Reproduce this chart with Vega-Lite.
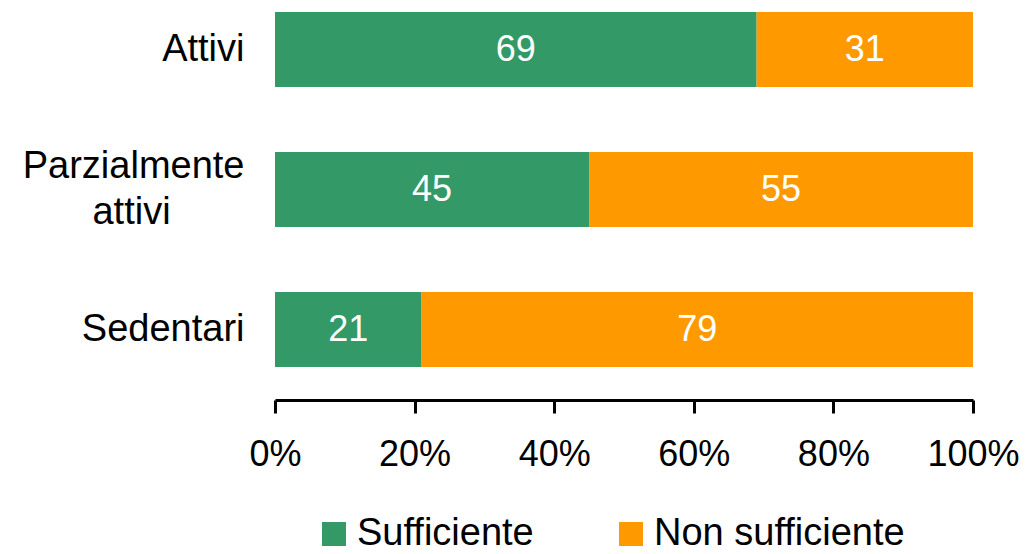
{
  "$schema": "https://vega.github.io/schema/vega-lite/v6.json",
  "autosize": {"type": "none"},
  "width": 698,
  "height": 388,
  "padding": {"left": 275, "top": 12, "right": 54, "bottom": 154},
  "background": "white",
  "config": {
    "view": {"stroke": null},
    "font": "Liberation Sans",
    "text": {"font": "Liberation Sans"}
  },
  "data": {
    "values": [
      {"gruppo": "Attivi", "esito": "Sufficiente", "valore": 69},
      {"gruppo": "Attivi", "esito": "Non sufficiente", "valore": 31},
      {"gruppo": "Parzialmente attivi", "esito": "Sufficiente", "valore": 45},
      {"gruppo": "Parzialmente attivi", "esito": "Non sufficiente", "valore": 55},
      {"gruppo": "Sedentari", "esito": "Sufficiente", "valore": 21},
      {"gruppo": "Sedentari", "esito": "Non sufficiente", "valore": 79}
    ]
  },
  "encoding": {
    "y": {
      "field": "gruppo",
      "type": "nominal",
      "sort": ["Attivi", "Parzialmente attivi", "Sedentari"],
      "scale": {"paddingInner": 0.464, "paddingOuter": 0.1175, "align": 0},
      "axis": {
        "title": null,
        "domain": false,
        "ticks": false,
        "labelFontSize": 38,
        "labelColor": "black",
        "labelPadding": 31,
        "labelLineHeight": 46,
        "labelLimit": 400,
        "labelOffset": {"condition": {"test": "datum.value == 'Parzialmente attivi'", "value": -23}, "value": 0},
        "labelExpr": "datum.label == 'Parzialmente attivi' ? ['Parzialmente', 'attivi\\u00a0\\u00a0\\u00a0\\u00a0\\u00a0\\u00a0\\u00a0\\u200b'] : datum.label"
      }
    },
    "order": {"field": "esito", "sort": "descending"}
  },
  "layer": [
    {
      "mark": {"type": "bar"},
      "encoding": {
        "x": {
          "field": "valore",
          "type": "quantitative",
          "stack": "zero",
          "scale": {"domain": [0, 100], "nice": false},
          "axis": {
            "title": null,
            "grid": false,
            "values": [0, 20, 40, 60, 80, 100],
            "labelExpr": "datum.value + '%'",
            "labelFontSize": 36,
            "labelColor": "black",
            "labelPadding": 24,
            "labelFlush": false,
            "domainColor": "black",
            "domainWidth": 3,
            "tickColor": "black",
            "tickWidth": 3,
            "tickSize": 13
          }
        },
        "color": {
          "field": "esito",
          "type": "nominal",
          "sort": ["Sufficiente", "Non sufficiente"],
          "scale": {"domain": ["Sufficiente", "Non sufficiente"], "range": ["#339966", "#FF9900"]},
          "legend": {
            "title": null,
            "orient": "none",
            "direction": "horizontal",
            "legendX": 40,
            "legendY": 503,
            "padding": 0,
            "symbolType": "square",
            "symbolSize": 576,
            "symbolStrokeWidth": 0,
            "symbolOpacity": 1,
            "labelFontSize": 38,
            "labelColor": "black",
            "labelOffset": 4,
            "columnPadding": 78,
            "labelLimit": 400
          }
        }
      }
    },
    {
      "mark": {"type": "text", "color": "white", "fontSize": 36},
      "encoding": {
        "x": {"field": "valore", "type": "quantitative", "stack": "zero", "bandPosition": 0.5},
        "detail": {"field": "esito", "type": "nominal"},
        "text": {"field": "valore", "type": "quantitative"}
      }
    }
  ]
}
